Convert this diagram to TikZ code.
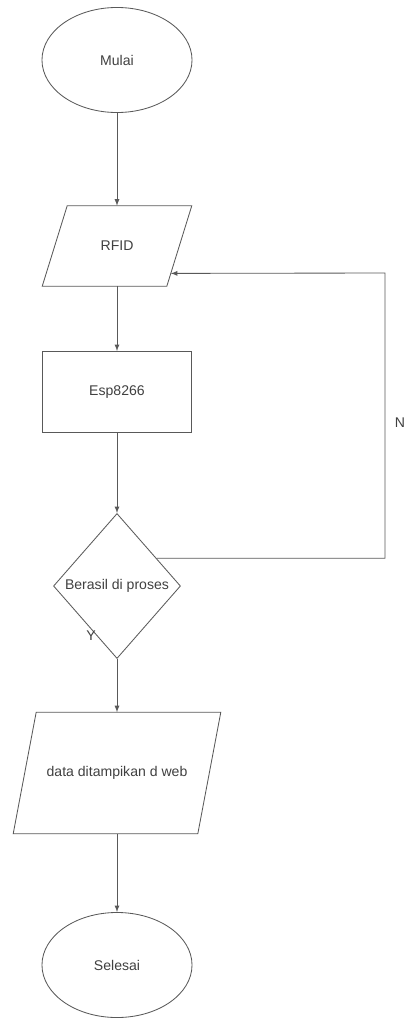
\documentclass[tikz,border=0pt]{standalone}
\usepackage{fontspec}
\setmainfont{Liberation Sans}
\usepackage{tikz}
\usetikzlibrary{arrows,shapes.geometric,calc}

\begin{document}
\begin{tikzpicture}[x=0.025cm,y=-0.025cm,>=latex,
    line/.style={draw=black!65,line width=.6pt},
    term/.style={line,ellipse,minimum width=3.75cm,minimum height=2.625cm},
    io/.style={rectangle,inner sep=0pt},
    proc/.style={line,rectangle,minimum width=3.725cm,minimum height=2.025cm},
    dec/.style={line,diamond,inner sep=0pt,minimum width=3.175cm,minimum height=3.625cm},
    font=\fontsize{10}{12}\selectfont,text=black!75]
      \useasboundingbox (0,0) rectangle (407,1019);
      \node[term] (mulai) at (117,60) {Mulai};
      \node[io,minimum width=3.1cm,minimum height=2cm] (rfid) at (117,246) {RFID};
      \node[proc] (esp) at (117,392) {Esp8266};
      \node[dec,label=center:{Berasil di proses}] (cek) at (117,586) {};
      \node[io,minimum width=4.6cm,minimum height=3.025cm] (data) at (117,773) {data ditampikan d web};
      \node[term] (selesai) at (117,965) {Selesai};
      \node (ya) at (91,636) {Y};
      \node (tidak) at (400,423) {N};
      \coordinate (rfid-bl) at ($(rfid.south west)+(-12.5,0)$);
      \coordinate (rfid-tl) at ($(rfid.north west)+(12.5,0)$);
      \coordinate (rfid-tr) at ($(rfid.north east)+(12.5,0)$);
      \coordinate (rfid-br) at ($(rfid.south east)+(-12.5,0)$);
      \draw[line] (rfid-bl) -- (rfid-tl) -- (rfid-tr) -- (rfid-br) -- cycle;
      \coordinate (data-bl) at ($(data.south west)+(-11.5,0)$);
      \coordinate (data-tl) at ($(data.north west)+(11.5,0)$);
      \coordinate (data-tr) at ($(data.north east)+(11.5,0)$);
      \coordinate (data-br) at ($(data.south east)+(-11.5,0)$);
      \draw[line] (data-bl) -- (data-tl) -- (data-tr) -- (data-br) -- cycle;
      \coordinate (balik) at (385,273);
      \draw[->,line] (mulai) -- (rfid);
      \draw[->,line] (rfid) -- (esp);
      \draw[->,line] (esp) -- (cek);
      \draw[->,line] (cek) -- (data);
      \draw[->,line] (data) -- (selesai);
      \draw[->,line] ($(cek.north)!.62!(cek.east)$) -| (balik)
        -- ($(rfid-br)!.16!(rfid-tr)$);
    \end{tikzpicture}
\end{document}
